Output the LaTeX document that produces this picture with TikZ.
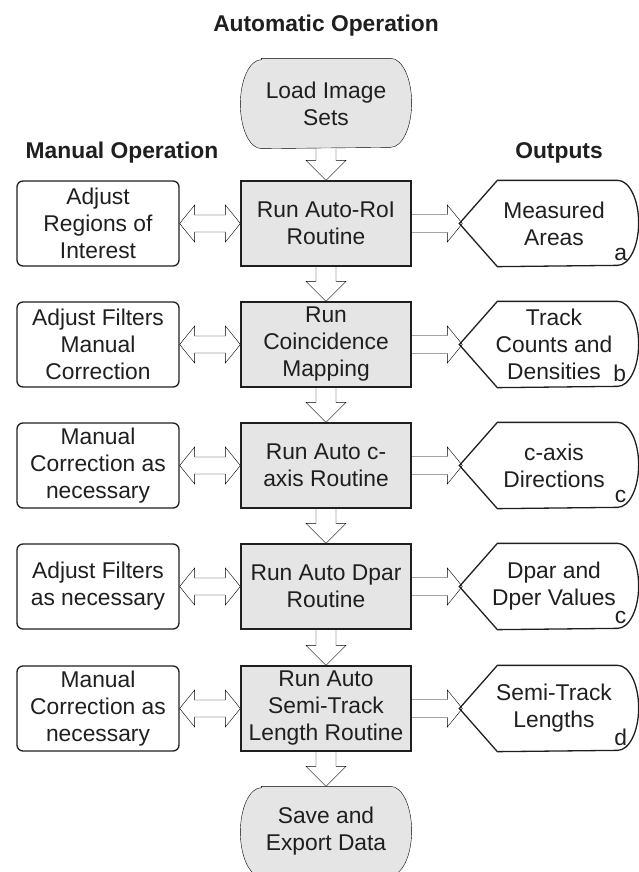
\documentclass[tikz,border=0pt]{standalone}
\usepackage{fontspec}
\setmainfont{Liberation Sans}
\usetikzlibrary{calc,backgrounds}
\definecolor{boxgray}{gray}{0.9}
\newcommand\fsz{\fontsize{22.8pt}{27pt}\selectfont}
\newcommand\vblk[2]{\draw[blk] ([xshift=-10pt]#1.south) -- ([xshift=-10pt,yshift=20pt]#2.north) -- ([xshift=-20pt,yshift=20pt]#2.north) -- (#2.north) -- ([xshift=20pt,yshift=20pt]#2.north) -- ([xshift=10pt,yshift=20pt]#2.north) -- ([xshift=10pt]#1.south);}
\newcommand\hdbl[2]{\draw[blk] (#1.east) -- ([xshift=15pt,yshift=18.5pt]#1.east) -- ([xshift=15pt,yshift=8.5pt]#1.east) -- ([xshift=-15pt,yshift=8.5pt]#2.west) -- ([xshift=-15pt,yshift=18.5pt]#2.west) -- (#2.west) -- ([xshift=-15pt,yshift=-18.5pt]#2.west) -- ([xshift=-15pt,yshift=-8.5pt]#2.west) -- ([xshift=15pt,yshift=-8.5pt]#1.east) -- ([xshift=15pt,yshift=-18.5pt]#1.east) -- cycle;}
\newcommand\rblk[2]{\draw[blk] ([yshift=9pt]#1.east) -- ([xshift=-12pt,yshift=9pt]#2.west) -- ([xshift=-12pt,yshift=18.5pt]#2.west) -- ([xshift=3pt]#2.west) -- ([xshift=-12pt,yshift=-18.5pt]#2.west) -- ([xshift=-12pt,yshift=-9pt]#2.west) -- ([yshift=-9pt]#1.east);}
\newcommand\outshape[1]{\draw ([xshift=38pt]#1.north west) -- ([xshift=-21pt]#1.north east) arc[start angle=90,end angle=-90,x radius=21pt,y radius=42.5pt] -- ([xshift=38pt]#1.south west) -- (#1.west) -- cycle;}
\newcommand\termshape[1]{\draw[fill=boxgray] ([xshift=21pt]#1.north west) -- ([xshift=-21pt]#1.north east) arc[start angle=90,end angle=-90,x radius=21pt,y radius=44.5pt] -- ([xshift=21pt]#1.south west) arc[start angle=-90,end angle=-270,x radius=21pt,y radius=44.5pt] -- cycle;}
\begin{document}
\begin{tikzpicture}[x=1pt,y=-1pt,line width=1.3pt,color=black!88,
  every node/.style={font=\fsz, align=center, inner sep=0pt},
  proc/.style={draw, fill=boxgray, minimum width=170pt, minimum height=85pt},
  manual/.style={draw, rounded corners=6pt, minimum width=162pt, minimum height=85pt},
  term/.style={minimum width=170pt, minimum height=89pt},
  outbox/.style={minimum width=178pt, minimum height=85pt},
  title/.style={font=\fsz\bfseries, anchor=base},
  tag/.style={anchor=base},
  blk/.style={fill=white, line join=miter}]
\useasboundingbox (0,0) rectangle (638,872);
\node[title] (tA) at (326,31.5) {Automatic Operation};
\node[title] (tM) at (122,158) {Manual Operation};
\node[title] (tO) at (559,158) {Outputs};
% automatic column
\node[term] (s) at (326,103.5) {Load Image\\Sets};
\node[proc] (p1) at (326,223.5) {Run Auto-RoI\\Routine};
\node[proc] (p2) at (326,344.5) {Run\\Coincidence\\Mapping};
\node[proc] (p3) at (326,465.5) {Run Auto c-\\axis Routine};
\node[proc] (p4) at (326,586.5) {Run Auto Dpar\\Routine};
\node[proc] (p5) at (326,708.5) {Run Auto\\Semi-Track\\Length Routine};
\node[term] (e) at (326,831.5) {Save and\\Export Data};
% manual column
\node[manual] (m1) at (98,223.5) {Adjust\\Regions of\\Interest};
\node[manual] (m2) at (98,344.5) {Adjust Filters\\Manual\\Correction};
\node[manual] (m3) at (98,465.5) {Manual\\Correction as\\necessary};
\node[manual] (m4) at (98,586.5) {Adjust Filters\\as necessary};
\node[manual] (m5) at (98,708.5) {Manual\\Correction as\\necessary};
% outputs
\node[outbox] (o1) at (549,223.5) {};
\node[outbox] (o2) at (549,344.5) {};
\node[outbox] (o3) at (549,465.5) {};
\node[outbox] (o4) at (549,586.5) {};
\node[outbox] (o5) at (549,708.5) {};
\node (o1t) at ([xshift=5pt]o1.center) {Measured\\Areas};
\node (o2t) at ([xshift=5pt]o2.center) {Track\\Counts and\\Densities};
\node (o3t) at ([xshift=5pt]o3.center) {c-axis\\Directions};
\node (o4t) at ([xshift=5pt]o4.center) {Dpar and\\Dper Values};
\node (o5t) at ([xshift=5pt]o5.center) {Semi-Track\\Lengths};
\node[tag] (o1l) at ([xshift=-18pt,yshift=6.5pt]o1.south east) {a};
\node[tag] (o2l) at ([xshift=-19pt,yshift=6.5pt]o2.south east) {b};
\node[tag] (o3l) at ([xshift=-18pt,yshift=6.5pt]o3.south east) {c};
\node[tag] (o4l) at ([xshift=-18pt,yshift=6.5pt]o4.south east) {c};
\node[tag] (o5l) at ([xshift=-18pt,yshift=6.5pt]o5.south east) {d};
\begin{scope}[on background layer]
  \termshape{s}
  \termshape{e}
  \vblk{s}{p1}
  \vblk{p1}{p2}
  \vblk{p2}{p3}
  \vblk{p3}{p4}
  \vblk{p4}{p5}
  \vblk{p5}{e}
  \hdbl{m1}{p1}
  \hdbl{m2}{p2}
  \hdbl{m3}{p3}
  \hdbl{m4}{p4}
  \hdbl{m5}{p5}
  \rblk{p1}{o1}
  \rblk{p2}{o2}
  \rblk{p3}{o3}
  \rblk{p4}{o4}
  \rblk{p5}{o5}
\end{scope}
\outshape{o1}
\outshape{o2}
\outshape{o3}
\outshape{o4}
\outshape{o5}
\end{tikzpicture}
\end{document}
